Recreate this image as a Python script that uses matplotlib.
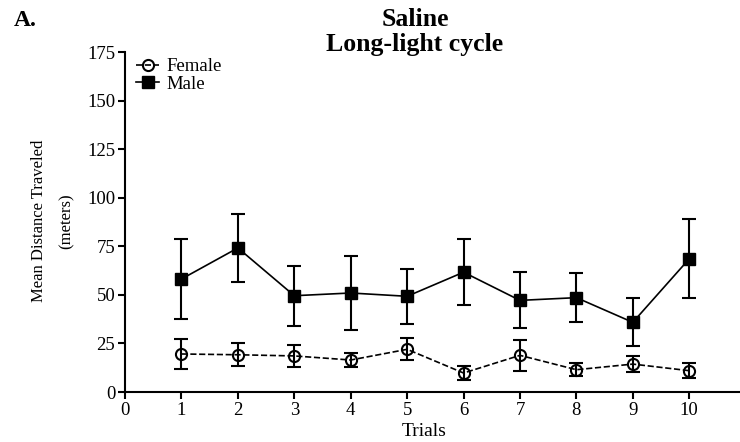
import numpy as np
import matplotlib.pyplot as plt

plt.rcParams['font.family'] = ['Liberation Serif', 'DejaVu Serif']

trials = [1, 2, 3, 4, 5, 6, 7, 8, 9, 10]

# mean distance traveled (m) and SEM per trial
male_mean = [58.2, 74.2, 49.6, 51.0, 49.3, 61.7, 47.2, 48.6, 35.9, 68.6]
male_err = [20.5, 17.3, 15.4, 19.2, 14.1, 17.0, 14.4, 12.7, 12.3, 20.3]
female_mean = [19.6, 19.2, 18.6, 16.5, 22.0, 9.8, 18.9, 11.5, 14.4, 11.0]
female_err = [7.5, 5.9, 5.7, 3.7, 5.6, 3.5, 8.0, 3.4, 4.0, 3.9]

fig = plt.figure(figsize=(7.4, 4.42), dpi=100)
ax = fig.add_axes([0.169, 0.113, 0.831, 0.769])

fem = ax.errorbar(trials, female_mean, yerr=female_err, color='black', ls='--', lw=1.2,
                  marker='o', ms=8, mfc='none', mec='black', mew=1.5,
                  elinewidth=1.5, capsize=5, capthick=1.5)
mal = ax.errorbar(trials, male_mean, yerr=male_err, color='black', ls='-', lw=1.2,
                  marker='s', ms=9, mfc='black', mec='black',
                  elinewidth=1.5, capsize=5, capthick=1.5)

ax.set_xlim(0, 10.9)
ax.set_ylim(0, 175)
ax.set_xticks(range(0, 11))
ax.set_yticks(range(0, 176, 25))
for side in ['top', 'right']:
    ax.spines[side].set_visible(False)
for side in ['left', 'bottom']:
    ax.spines[side].set_linewidth(1.5)
ax.tick_params(direction='out', length=5, width=1.5, labelsize=13.5, pad=2)

ax.set_xlabel('Trials', fontsize=14, labelpad=0)
ax.xaxis.set_label_coords((424 - 125) / 615, -0.09)

# two-line y label, lines set further apart
fig.text(39 / 740, 0.50, 'Mean Distance Traveled', rotation=90,
         fontsize=12, ha='center', va='center')
fig.text(67 / 740, 0.50, '(meters)', rotation=90,
         fontsize=12, ha='center', va='center')

fig.text(415 / 740, 1 - 20 / 442, 'Saline', fontsize=18.5, fontweight='bold',
         ha='center', va='center')
fig.text(415 / 740, 1 - 45 / 442, 'Long-light cycle', fontsize=18.5, fontweight='bold',
         ha='center', va='center')
fig.text(0.018, 1 - 20 / 442, 'A.', fontsize=17, fontweight='bold', va='center')

leg = ax.legend([fem[0], mal[0]], ['Female', 'Male'], loc='upper left',
                bbox_to_anchor=(0.0, 1.015), frameon=False,
                fontsize=13.5, handlelength=1.2, handletextpad=0.4,
                labelspacing=0.0, borderaxespad=0.2)

fig.savefig('out.png', dpi=100)
